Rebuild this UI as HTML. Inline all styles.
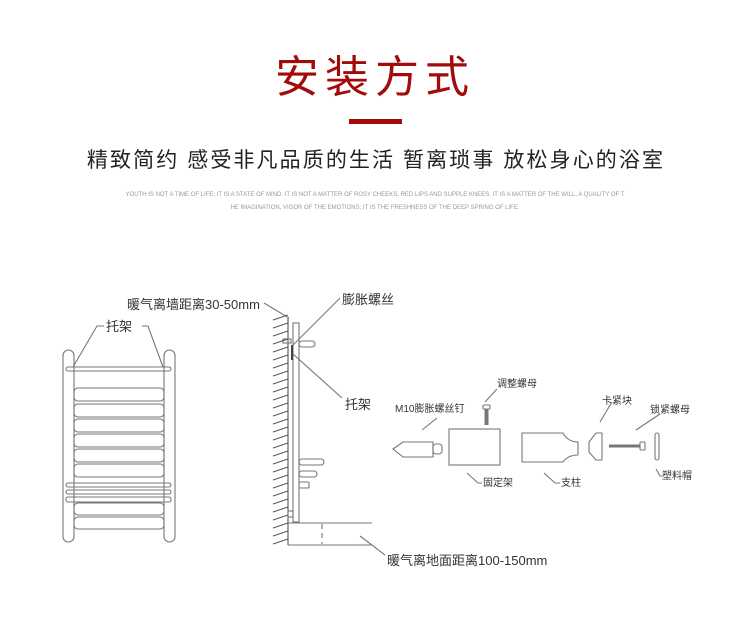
<!DOCTYPE html>
<html><head><meta charset="utf-8"><style>
html,body{margin:0;padding:0;background:#fff;width:750px;height:637px;overflow:hidden}
svg{display:block}
text{font-family:"Liberation Sans","Noto Sans CJK SC",sans-serif}
</style></head><body>
<svg width="750" height="637" viewBox="0 0 750 637" xmlns="http://www.w3.org/2000/svg">
<text x="375" y="92" text-anchor="middle" font-size="44" fill="#a30a0a" letter-spacing="6">安装方式</text>
<rect x="349" y="119" width="53" height="5" fill="#a30a0a"/>
<text x="376" y="167" text-anchor="middle" font-size="21" fill="#222" letter-spacing="2.1">精致简约 感受非凡品质的生活 暂离琐事 放松身心的浴室</text>
<text x="375" y="196" text-anchor="middle" font-size="6" fill="#999">YOUTH IS NOT A TIME OF LIFE; IT IS A STATE OF MIND. IT IS NOT A MATTER OF ROSY CHEEKS, RED LIPS AND SUPPLE KNEES. IT IS A MATTER OF THE WILL, A QUALITY OF T</text>
<text x="375" y="209" text-anchor="middle" font-size="6" fill="#999">HE IMAGINATION, VIGOR OF THE EMOTIONS; IT IS THE FRESHNESS OF THE DEEP SPRING OF LIFE.</text>

<g fill="none" stroke="#777" stroke-width="1.1">
<rect x="63" y="350" width="11" height="192" rx="5.5"/>
<rect x="164" y="350" width="11" height="192" rx="5.5"/>
<rect x="66" y="367" width="105" height="4" rx="2"/>
<rect x="74" y="388" width="90" height="13" rx="4"/>
<rect x="74" y="404" width="90" height="13" rx="4"/>
<rect x="74" y="419" width="90" height="13" rx="4"/>
<rect x="74" y="434" width="90" height="13" rx="4"/>
<rect x="74" y="449" width="90" height="13" rx="4"/>
<rect x="74" y="464" width="90" height="13" rx="4"/>
<rect x="66" y="483" width="105" height="4" rx="2"/>
<rect x="66" y="490" width="105" height="4" rx="2"/>
<rect x="66" y="497" width="105" height="5" rx="2"/>
<rect x="74" y="503" width="90" height="12" rx="4"/>
<rect x="74" y="517" width="90" height="12" rx="4"/>
<line x1="288" y1="318" x2="288" y2="545" stroke="#555"/>
<rect x="293" y="323" width="6" height="199"/>
<line x1="288" y1="523" x2="372" y2="523"/>
<line x1="288" y1="545" x2="372" y2="545"/>
<line x1="322" y1="524" x2="322" y2="544" stroke-dasharray="5,4"/>
<rect x="299" y="341" width="16" height="6" rx="3"/>
<rect x="299" y="459" width="25" height="6" rx="3"/>
<rect x="299" y="471" width="18" height="6" rx="3"/>
<rect x="299" y="482" width="10" height="6" rx="1"/>
<rect x="288" y="511" width="5" height="6"/>
<rect x="283" y="339" width="8" height="4"/>
<line x1="292" y1="345" x2="292" y2="360" stroke="#444" stroke-width="2"/>
<line x1="264" y1="303" x2="289" y2="318"/>
<polyline points="104,326 97,326 73,367"/>
<polyline points="142,326 148,326 163,367"/>
<line x1="340" y1="298" x2="293" y2="345"/>
<line x1="342" y1="398" x2="293" y2="354"/>
<line x1="360" y1="536" x2="385" y2="555"/>
<path d="M393 449 L403 442 L433 442 L433 457 L403 457 Z"/>
<rect x="433" y="444" width="9" height="10" rx="3"/>
<rect x="449" y="429" width="51" height="36"/>
<rect x="483" y="405" width="7" height="4" rx="1"/>
<line x1="486.5" y1="409" x2="486.5" y2="425" stroke-width="4"/>
<path d="M522 433 L563 433 Q568 442 578 442 L578 455 Q568 455 563 462 L522 462 Z"/>
<path d="M596 433 L602 433 L602 460 L596 460 L589 452 L589 442 Z"/>
<line x1="609" y1="446" x2="640" y2="446" stroke-width="3"/>
<rect x="640" y="442" width="5" height="8" rx="1"/>
<rect x="655" y="433" width="4" height="27" rx="2"/>
<line x1="437" y1="418" x2="422" y2="430"/>
<line x1="497" y1="389" x2="485" y2="402"/>
<line x1="612" y1="402" x2="600" y2="422"/>
<line x1="660" y1="414" x2="636" y2="430"/>
<polyline points="467,473 478,483 482,483"/>
<polyline points="544,473 555,483 560,483"/>
<polyline points="656,469 660,476 663,476"/>
</g>
<g stroke="#555" stroke-width="1">
<path d="M273 320 l15 -5 M273 328 l15 -5 M273 336 l15 -5 M273 344 l15 -5 M273 352 l15 -5 M273 360 l15 -5 M273 368 l15 -5 M273 376 l15 -5 M273 384 l15 -5 M273 392 l15 -5 M273 400 l15 -5 M273 408 l15 -5 M273 416 l15 -5 M273 424 l15 -5 M273 432 l15 -5 M273 440 l15 -5 M273 448 l15 -5 M273 456 l15 -5 M273 464 l15 -5 M273 472 l15 -5 M273 480 l15 -5 M273 488 l15 -5 M273 496 l15 -5 M273 504 l15 -5 M273 512 l15 -5 M273 520 l15 -5 M273 528 l15 -5 M273 536 l15 -5 M273 544 l15 -5"/>
</g>
<g font-size="13" fill="#333">
<text x="127" y="309">暖气离墙距离30-50mm</text>
<text x="106" y="331">托架</text>
<text x="342" y="304">膨胀螺丝</text>
<text x="345" y="409">托架</text>
<text x="387" y="565">暖气离地面距离100-150mm</text>
</g>
<g font-size="10" fill="#333">
<text x="395" y="412">M10膨胀螺丝钉</text>
<text x="497" y="387">调整螺母</text>
<text x="602" y="404">卡紧块</text>
<text x="650" y="413">锁紧螺母</text>
<text x="483" y="486">固定架</text>
<text x="561" y="486">支柱</text>
<text x="662" y="479">塑料帽</text>
</g>
</svg>
</body></html>
